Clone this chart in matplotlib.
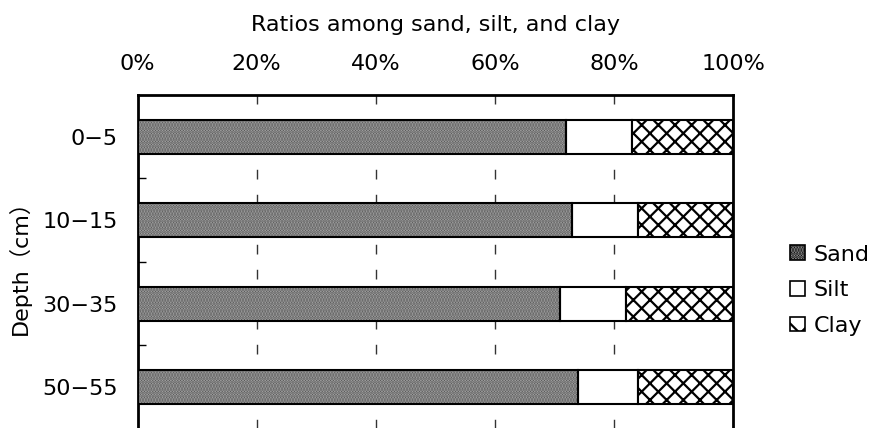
import matplotlib
matplotlib.use("Agg")
import matplotlib.pyplot as plt
from matplotlib.patches import Patch
import numpy as np

plt.rcParams['font.family'] = ['DejaVu Sans', 'Noto Sans CJK JP']
plt.rcParams['hatch.linewidth'] = 1.6

# 土壤粒径组成（%）
depths = ['0\u22125', '10\u221215', '30\u221235', '50\u221255']
sand = [72, 73, 71, 74]
silt = [11, 11, 11, 10]
clay = [17, 16, 18, 16]
xticks = [0, 20, 40, 60, 80, 100]

fig = plt.figure(figsize=(8.76, 4.28), dpi=100)
ax = fig.add_axes([0.157, -0.002, 0.680, 0.780])

y = np.arange(len(depths))
left_silt = np.array(sand)
left_clay = np.array(sand) + np.array(silt)
bh = 0.41

# 砂：灰色点状纹理，再叠一层黑色边框
ax.barh(y, sand, height=bh, color='#b4b4b4', edgecolor='#555555',
        linewidth=0, hatch='......', zorder=3)
ax.barh(y, sand, height=bh, fill=False, edgecolor='black', linewidth=1.5, zorder=4)
ax.barh(y, silt, left=left_silt, height=bh, color='white', edgecolor='black',
        linewidth=1.5, zorder=3)
ax.barh(y, clay, left=left_clay, height=bh, color='white', edgecolor='black',
        linewidth=1.5, hatch='xx', zorder=3)

ax.set_xlim(0, 100)
ax.set_ylim(len(depths) - 0.5, -0.5)

# 横轴刻度放在上方
ax.xaxis.set_ticks_position('top')
ax.xaxis.set_label_position('top')
ax.set_xticks(xticks)
ax.set_xticklabels([f'{v}%' for v in xticks])
ax.tick_params(axis='x', length=0, pad=15, labelsize=16)
ax.set_xlabel('Ratios among sand, silt, and clay', fontsize=16, labelpad=17)

ax.set_yticks(y)
ax.set_yticklabels(depths)
ax.set_yticks(np.arange(len(depths) - 1) + 0.5, minor=True)
ax.tick_params(axis='y', which='major', length=0, pad=14, labelsize=16)
ax.tick_params(axis='y', which='minor', length=6, width=1, direction='in')
ax.set_ylabel('Depth\uff08cm\uff09', fontsize=16, labelpad=8)

# 20%~80% 竖向虚线
for v in xticks[1:-1]:
    ax.axvline(v, color='#333333', linewidth=1, dashes=(7, 11), zorder=1)

for side in ['left', 'top', 'right']:
    ax.spines[side].set_linewidth(2)
ax.spines['bottom'].set_visible(False)

handles = [
    Patch(facecolor='#b4b4b4', edgecolor='black', hatch='......', linewidth=1.2, label='Sand'),
    Patch(facecolor='white', edgecolor='black', linewidth=1.2, label='Silt'),
    Patch(facecolor='white', edgecolor='black', hatch='x', linewidth=1.2, label='Clay'),
]
fig.legend(handles=handles, loc='center left', bbox_to_anchor=(0.892, 0.322),
           frameon=False, fontsize=16, handlelength=0.65, handleheight=0.65,
           handletextpad=0.4, labelspacing=0.7, borderaxespad=0)

fig.savefig('out.png', dpi=100)
